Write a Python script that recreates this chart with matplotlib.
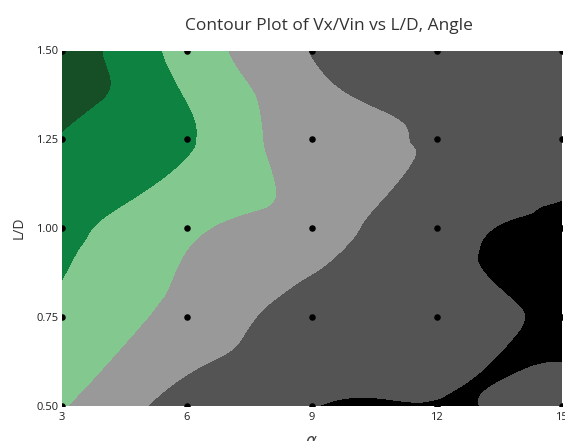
import numpy as np
import matplotlib
matplotlib.use("Agg")
import matplotlib.pyplot as plt
import matplotlib.tri as mtri

# Design grid: angle (alpha) and L/D
alpha = [3, 6, 9, 12, 15]
l_over_d = [0.50, 0.75, 1.00, 1.25, 1.50]

# Vx/Vin response, one list per L/D row (alpha 3 -> 15)
vx_ld_050 = [0.603, 0.530, 0.501, 0.499, 0.509]
vx_ld_075 = [0.640, 0.583, 0.527, 0.517, 0.494]
vx_ld_100 = [0.664, 0.607, 0.575, 0.512, 0.490]
vx_ld_125 = [0.697, 0.655, 0.569, 0.546, 0.528]
vx_ld_150 = [0.728, 0.630, 0.548, 0.525, 0.525]

levels = [0.40, 0.50, 0.55, 0.60, 0.65, 0.70, 0.80]
band_colors = ["#000000", "#545454", "#999999", "#82c88f", "#0e8240", "#164f25"]

plt.rcParams["font.family"] = ["Open Sans", "DejaVu Sans"]

Z = np.array([vx_ld_050, vx_ld_075, vx_ld_100, vx_ld_125, vx_ld_150])
A, L = np.meshgrid(alpha, l_over_d)

fig = plt.figure(figsize=(5.65, 4.41), dpi=100)
ax = fig.add_axes([61.7 / 565, 1 - 406 / 441, 500 / 565, (406 - 50.5) / 441])

# Smooth the surface with a local cubic interpolator on a refined mesh
tri = mtri.Triangulation(A.ravel(), L.ravel())
interp = mtri.CubicTriInterpolator(tri, Z.ravel(), kind="geom")
refiner = mtri.UniformTriRefiner(tri)
tri_fine, z_fine = refiner.refine_field(Z.ravel(), triinterpolator=interp, subdiv=5)
ax.tricontourf(tri_fine, z_fine, levels=levels, colors=band_colors)

# Design points
ax.scatter(A.ravel(), L.ravel(), s=22, color="black", zorder=3, linewidths=0)

ax.set_xlim(3, 15)
ax.set_ylim(0.5, 1.5)
ax.set_xticks(alpha)
ax.set_yticks(l_over_d)
ax.set_yticklabels([f"{v:.2f}" for v in l_over_d])
ax.tick_params(length=0, labelsize=8, colors="#1e1e1e", pad=2.5)
ax.tick_params(axis="x", pad=4)
for s in ax.spines.values():
    s.set_visible(False)

ax.set_xlabel(r"$\alpha$", fontsize=12, color="#444444", labelpad=8)
ax.set_ylabel("L/D", fontsize=10, color="#333333", labelpad=7)

fig.text(329 / 565, 1 - 26 / 441, "Contour Plot of Vx/Vin vs L/D, Angle",
         ha="center", va="center", fontsize=12.5, color="#333333")

fig.savefig("out.png", dpi=100)
